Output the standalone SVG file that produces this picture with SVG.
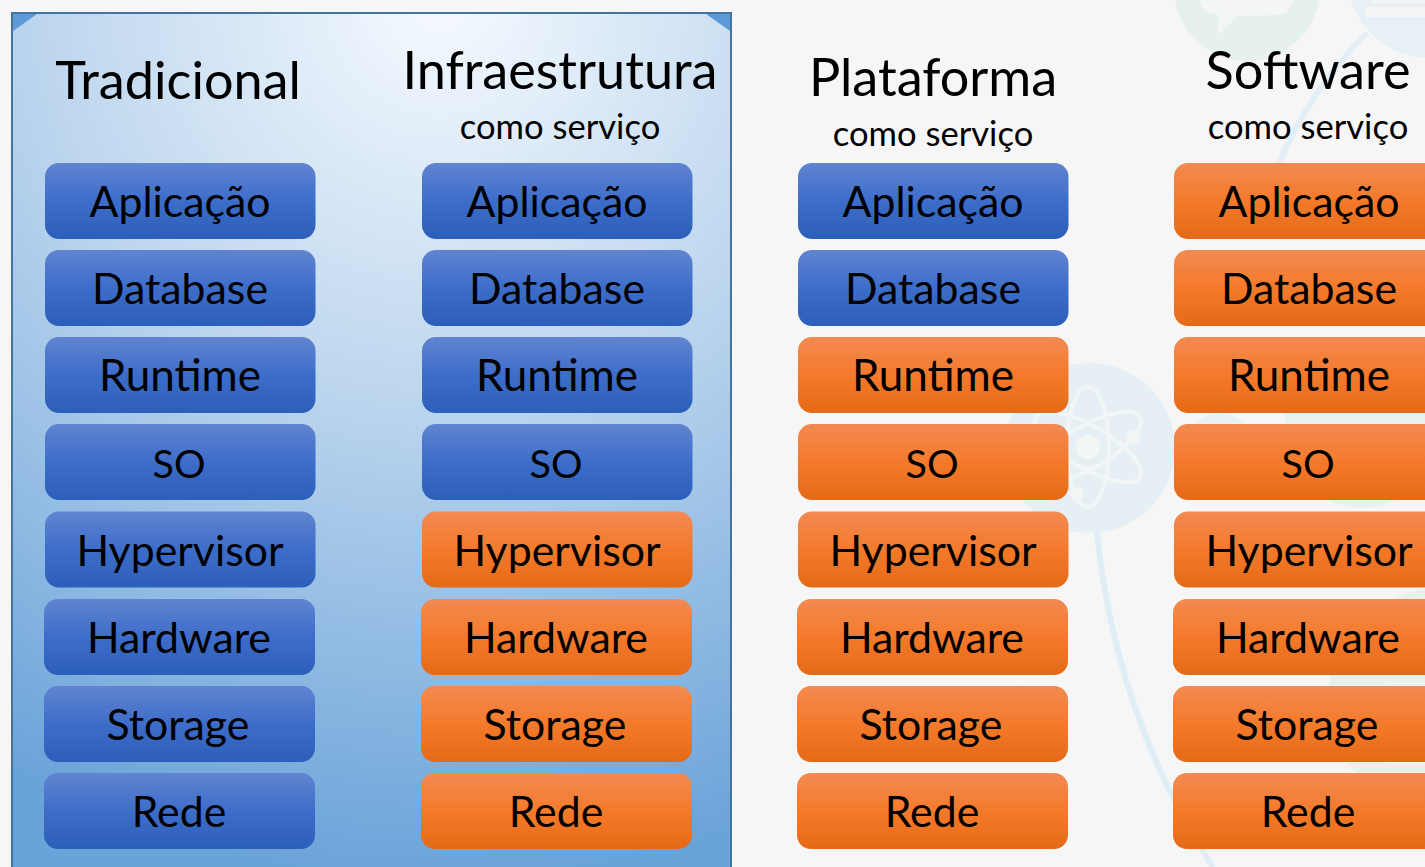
<svg xmlns="http://www.w3.org/2000/svg" width="1425" height="867" viewBox="0 0 1425 867">
<style>
text{font-family:Lato,"Open Sans",sans-serif;fill:#000;text-anchor:middle}
.h{font-size:52.2px}.s{font-size:34.6px}.l{font-size:42.8px}.rt{font-size:44px}.so{font-size:39.5px}
.b{fill:url(#blue)}.o{fill:url(#orange)}
.art{fill:none;stroke:#dfeef6;stroke-width:6}
</style>
<defs>
<linearGradient id="blue" x1="0" y1="0" x2="0" y2="1"><stop offset="0" stop-color="#6184d0"/><stop offset=".5" stop-color="#3d6dca"/><stop offset="1" stop-color="#2c5fb9"/></linearGradient>
<linearGradient id="orange" x1="0" y1="0" x2="0" y2="1"><stop offset="0" stop-color="#f28a52"/><stop offset=".5" stop-color="#f47a2b"/><stop offset="1" stop-color="#e56a17"/></linearGradient>
<radialGradient id="panel" gradientUnits="userSpaceOnUse" cx="440" cy="0" r="880"><stop offset="0" stop-color="#f6faff"/><stop offset=".45" stop-color="#bdd6ee"/><stop offset="1" stop-color="#6aa3d9"/></radialGradient>
</defs>
<rect width="1425" height="867" fill="#f6f6f6"/>
<g id="background-art">
<circle cx="1247" cy="-12" r="73" fill="#e6f1ef"/>
<circle cx="1430" cy="-25" r="83" fill="#e6f0f5"/>
<path d="M1200 0h93q-3 14-15 15l-40 1-20 19v-20q-18-2-18-15z" fill="#f4f6f5"/>
<path d="M1365 7h60v10h-60zM1372 0h53v3h-53z" fill="#f4f6f5"/>
<path d="M1367 33Q1310 90 1278 165" class="art" stroke-opacity=".8"/>
<circle cx="1090" cy="448" r="85" fill="#e6f0f4"/>
<g fill="none" stroke="#f3f6f7" stroke-width="4">
<ellipse cx="1088" cy="447" rx="21" ry="60"/>
<ellipse cx="1088" cy="447" rx="21" ry="60" transform="rotate(60 1088 447)"/>
<ellipse cx="1088" cy="447" rx="21" ry="60" transform="rotate(-60 1088 447)"/>
</g>
<g fill="#f3f6f7"><circle cx="1088" cy="447" r="12"/><circle cx="1133" cy="437" r="7"/><circle cx="1077" cy="494" r="7"/></g>
<circle cx="1220" cy="454" r="40" fill="#e8f1f4"/>
<circle cx="1362" cy="430" r="78" fill="#e7f2ef"/>
<circle cx="1440" cy="700" r="112" fill="#e7f2ef"/>
<rect x="1381" y="683" width="80" height="80" rx="8" fill="none" stroke="#f1f6f4" stroke-width="2"/>
<path d="M1097 533C1110 660 1150 770 1213 867" class="art"/>
</g>
<g id="panel-group">
<rect x="12" y="13" width="719" height="860" fill="url(#panel)" stroke="#44739f" stroke-width="2"/>
<path d="M13 14h24l-24 17zM730 14h-24l24 17z" fill="#5b9ad6"/>
</g>
<g id="headers">
<text class="h" x="178" y="99">Tradicional</text>
<text class="h" x="560" y="89">Infraestrutura</text>
<text class="s" x="560" y="139">como serviço</text>
<text class="h" x="933" y="96">Plataforma</text>
<text class="s" x="933" y="146">como serviço</text>
<text class="h" x="1308" y="89">Software</text>
<text class="s" x="1308" y="139">como serviço</text>
</g>
<g id="col-tradicional">
<g id="t1"><rect class="b" x="45" y="163" width="270.500" height="76" rx="14"/><text class="l" x="180" y="217">Aplicação</text></g>
<g id="t2"><rect class="b" x="45" y="250" width="270.500" height="76" rx="14"/><text class="l" x="180" y="304">Database</text></g>
<g id="t3"><rect class="b" x="45" y="337" width="270.500" height="76" rx="14"/><text class="l rt" x="180" y="391">Runtime</text></g>
<g id="t4"><rect class="b" x="45" y="424" width="270.500" height="76" rx="14"/><text class="l so" x="179" y="478">SO</text></g>
<g id="t5"><rect class="b" x="45" y="511.500" width="270.500" height="76" rx="14"/><text class="l" x="180" y="566">Hypervisor</text></g>
<g id="t6"><rect class="b" x="44" y="599" width="271" height="76" rx="14"/><text class="l" x="179" y="653">Hardware</text></g>
<g id="t7"><rect class="b" x="44" y="686" width="271" height="76" rx="14"/><text class="l" x="178" y="740">Storage</text></g>
<g id="t8"><rect class="b" x="44" y="773" width="271" height="76" rx="14"/><text class="l" x="179" y="827">Rede</text></g>
</g>
<g id="col-iaas">
<g id="i1"><rect class="b" x="422" y="163" width="270.500" height="76" rx="14"/><text class="l" x="557" y="217">Aplicação</text></g>
<g id="i2"><rect class="b" x="422" y="250" width="270.500" height="76" rx="14"/><text class="l" x="557" y="304">Database</text></g>
<g id="i3"><rect class="b" x="422" y="337" width="270.500" height="76" rx="14"/><text class="l rt" x="557" y="391">Runtime</text></g>
<g id="i4"><rect class="b" x="422" y="424" width="270.500" height="76" rx="14"/><text class="l so" x="556" y="478">SO</text></g>
<g id="i5"><rect class="o" x="422" y="511.500" width="270.500" height="76" rx="14"/><text class="l" x="557" y="566">Hypervisor</text></g>
<g id="i6"><rect class="o" x="421" y="599" width="271" height="76" rx="14"/><text class="l" x="556" y="653">Hardware</text></g>
<g id="i7"><rect class="o" x="421" y="686" width="271" height="76" rx="14"/><text class="l" x="555" y="740">Storage</text></g>
<g id="i8"><rect class="o" x="421" y="773" width="271" height="76" rx="14"/><text class="l" x="556" y="827">Rede</text></g>
</g>
<g id="col-paas">
<g id="p1"><rect class="b" x="798" y="163" width="270.500" height="76" rx="14"/><text class="l" x="933" y="217">Aplicação</text></g>
<g id="p2"><rect class="b" x="798" y="250" width="270.500" height="76" rx="14"/><text class="l" x="933" y="304">Database</text></g>
<g id="p3"><rect class="o" x="798" y="337" width="270.500" height="76" rx="14"/><text class="l rt" x="933" y="391">Runtime</text></g>
<g id="p4"><rect class="o" x="798" y="424" width="270.500" height="76" rx="14"/><text class="l so" x="932" y="478">SO</text></g>
<g id="p5"><rect class="o" x="798" y="511.500" width="270.500" height="76" rx="14"/><text class="l" x="933" y="566">Hypervisor</text></g>
<g id="p6"><rect class="o" x="797" y="599" width="271" height="76" rx="14"/><text class="l" x="932" y="653">Hardware</text></g>
<g id="p7"><rect class="o" x="797" y="686" width="271" height="76" rx="14"/><text class="l" x="931" y="740">Storage</text></g>
<g id="p8"><rect class="o" x="797" y="773" width="271" height="76" rx="14"/><text class="l" x="932" y="827">Rede</text></g>
</g>
<g id="col-saas">
<g id="s1"><rect class="o" x="1174" y="163" width="271" height="76" rx="14"/><text class="l" x="1309" y="217">Aplicação</text></g>
<g id="s2"><rect class="o" x="1174" y="250" width="271" height="76" rx="14"/><text class="l" x="1309" y="304">Database</text></g>
<g id="s3"><rect class="o" x="1174" y="337" width="271" height="76" rx="14"/><text class="l rt" x="1309" y="391">Runtime</text></g>
<g id="s4"><rect class="o" x="1174" y="424" width="271" height="76" rx="14"/><text class="l so" x="1308" y="478">SO</text></g>
<g id="s5"><rect class="o" x="1174" y="511.500" width="271" height="76" rx="14"/><text class="l" x="1309" y="566">Hypervisor</text></g>
<g id="s6"><rect class="o" x="1173" y="599" width="271" height="76" rx="14"/><text class="l" x="1308" y="653">Hardware</text></g>
<g id="s7"><rect class="o" x="1173" y="686" width="271" height="76" rx="14"/><text class="l" x="1307" y="740">Storage</text></g>
<g id="s8"><rect class="o" x="1173" y="773" width="271" height="76" rx="14"/><text class="l" x="1308" y="827">Rede</text></g>
</g>
</svg>
